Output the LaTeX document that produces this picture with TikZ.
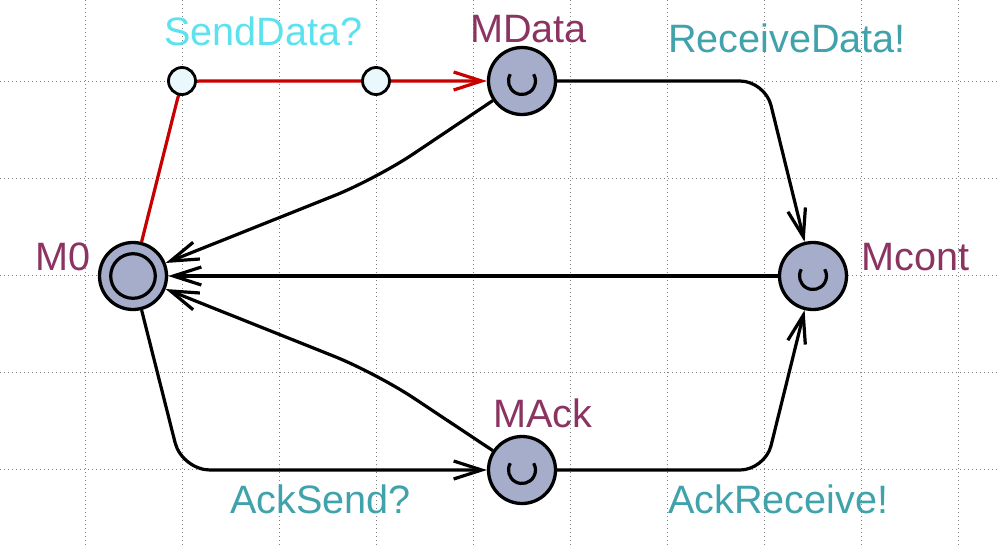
\documentclass[tikz,border=0pt]{standalone}
\usepackage{fontspec}
\setmainfont{Liberation Sans}
\usetikzlibrary{arrows.meta}
\definecolor{nodefill}{HTML}{A5ADCB}
\definecolor{nailfill}{HTML}{E8F8FC}
\definecolor{namecol}{HTML}{8B3462}
\definecolor{synccol}{HTML}{40A2AA}
\definecolor{sendcol}{HTML}{5CE2EF}
\definecolor{redcol}{HTML}{C80000}
\tikzset{
  x=1pt, y=1pt,
  loc/.style={circle, draw=black, fill=nodefill, line width=3.3pt, minimum size=67pt, inner sep=0pt},
  nail/.style={circle, draw=black, fill=nailfill, line width=2.8pt, minimum size=27pt, inner sep=0pt},
  edge/.style={draw=black, line width=3.2pt, rounded corners=25pt, -{Straight Barb[length=28pt,width=18pt,line width=3.2pt]}},
  lbl/.style={anchor=base west, inner sep=0pt, font=\fontsize{39.6}{40}\selectfont},
  gridline/.style={draw=gray, line width=1pt, dash pattern=on 1pt off 3pt},
}
\begin{document}
\begin{tikzpicture}
\useasboundingbox (0,0) rectangle (1000,-546);
\fill[white] (0,0) rectangle (1000,-546);
% grid
\foreach \k in {0,...,9} { \draw[gridline] ({85+97.1*\k},0) -- ({85+97.1*\k},-546); }
\foreach \k in {0,...,4} { \draw[gridline] (0,{-81.5-97.1*\k}) -- (1000,{-81.5-97.1*\k}); }
% locations
\node[loc] (M0) at (133,-276) {};
\node[loc] (MData) at (522,-81) {};
\node[loc] (Mcont) at (813,-276) {};
\node[loc] (MAck) at (522,-470) {};
\coordinate (n1c) at (182,-81);
\coordinate (n2c) at (376,-81);
\coordinate (b1) at (376,-179);
\coordinate (b2) at (765,-81);
\coordinate (b3) at (765,-470);
\coordinate (b4) at (376,-373);
\coordinate (b5) at (182,-470);
% edges
\draw[edge, draw=redcol, rounded corners=18pt, -{Straight Barb[length=28pt,width=18pt,line width=3.2pt,color=redcol]}] (M0) -- (n1c) -- (n2c) -- (MData);
\draw[edge, rounded corners=45pt] (MData) -- (b1) -- (M0);
\draw[edge] (MData) -- (b2) -- (Mcont);
\draw[edge] (Mcont) -- (M0);
\draw[edge, rounded corners=45pt] (MAck) -- (b4) -- (M0);
\draw[edge, rounded corners=28pt] (M0) -- (b5) -- (MAck);
\draw[edge] (MAck) -- (b3) -- (Mcont);
% nails
\node[nail] (n1) at (n1c) {};
\node[nail] (n2) at (n2c) {};
% inner marks
\draw[line width=3.2pt] (M0.center) circle[radius=22.3];
\foreach \n in {MData,Mcont,MAck} {
  \draw[line width=3.2pt] (\n.center) ++(-11.7,6.75) arc[start angle=150, end angle=390, radius=13.5];
}
% labels
\node[lbl, text=sendcol] (lsend) at (164,-45) {SendData?};
\node[lbl, text=namecol] (lmdata) at (470,-42) {MData};
\node[lbl, text=synccol] (lrecv) at (668,-52) {ReceiveData!};
\node[lbl, text=namecol] (lm0) at (35,-270) {M0};
\node[lbl, text=namecol] (lmcont) at (861,-270) {Mcont};
\node[lbl, text=synccol] (lacks) at (230,-513) {AckSend?};
\node[lbl, text=namecol] (lmack) at (493,-427) {MAck};
\node[lbl, text=synccol] (lackr) at (668,-513) {AckReceive!};
\end{tikzpicture}
\end{document}
